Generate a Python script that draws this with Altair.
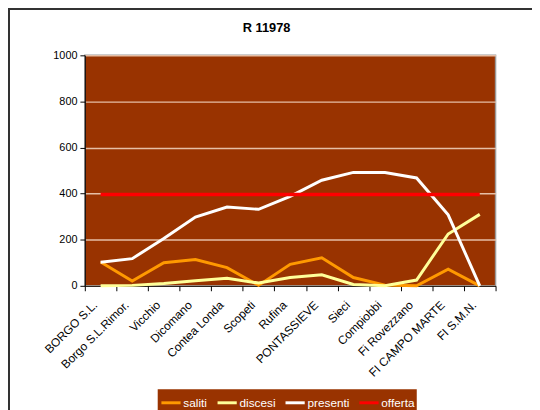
import altair as alt
import pandas as pd

stations = ["BORGO S.L.", "Borgo S.L.Rimor.", "Vicchio", "Dicomano", "Contea Londa",
            "Scopeti", "Rufina", "PONTASSIEVE", "Sieci", "Compiobbi", "Fi Rovezzano",
            "FI CAMPO MARTE", "FI S.M.N."]
saliti = [103, 21, 100, 114, 79, 2, 93, 122, 36, 3, 0, 72, 0]
discesi = [0, 2, 10, 22, 33, 12, 36, 48, 6, 0, 25, 225, 310]
presenti = [102, 118, 205, 298, 342, 332, 388, 458, 492, 492, 468, 308, 0]
offerta = [396] * 13

series_names = ["saliti", "discesi", "presenti", "offerta"]
series_colors = ["#FF9900", "#FFFF99", "#FFFFFF", "#FF0000"]
series_values = [saliti, discesi, presenti, offerta]

rows = []
for name, vals in zip(series_names, series_values):
    for st, v in zip(stations, vals):
        rows.append({"stazione": st, "serie": name, "valore": v})
df = pd.DataFrame(rows)

FONT = "Liberation Sans"
W, H = 417, 234

x_enc = alt.X("stazione:N", sort=stations,
              scale=alt.Scale(paddingInner=0, paddingOuter=0),
              axis=alt.Axis(title=None, labelAngle=-45, labelFontSize=12, labelFont=FONT,
                            labelColor="#000000", tickBand="extent", tickSize=5,
                            domainColor="#000000", tickColor="#000000", labelPadding=12,
                            labelAlign="right", labelBaseline="middle", labelOffset=-6,
                            grid=False, labelLimit=200))
y_enc = alt.Y("valore:Q", scale=alt.Scale(domain=[0, 1000], nice=False),
              axis=alt.Axis(title=None, values=[0, 200, 400, 600, 800, 1000], format="d",
                            labelFontSize=11, labelFont=FONT, labelColor="#000000",
                            tickSize=5, domainColor="#000000", tickColor="#000000",
                            gridColor="#E6BFA6", gridWidth=1.5, labelPadding=3))
color_enc = alt.Color("serie:N", scale=alt.Scale(domain=series_names, range=series_colors),
                      legend=alt.Legend(title=None, orient="none", direction="horizontal",
                                        legendX=74, legendY=339, fillColor="#993300",
                                        padding=2, symbolType="stroke", symbolStrokeWidth=3,
                                        symbolSize=380, labelColor="#FFFFFF", labelFontSize=12,
                                        labelFont=FONT, columnPadding=3, labelOffset=1,
                                        symbolOffset=0))

layers = []
for name in series_names:
    layers.append(
        alt.Chart(df).transform_filter(alt.datum.serie == name)
        .mark_line(strokeWidth=3 if name != "offerta" else 3.5)
        .encode(x=x_enc, y=y_enc, color=color_enc)
    )

border = alt.Chart(df).mark_rect(fill=None, stroke="#333333", strokeWidth=1.5, clip=False).encode(
    x=alt.value(-77), x2=alt.value(470), y=alt.value(-47), y2=alt.value(420))

chart = alt.layer(*layers, border).properties(
    width=W, height=H,
    title=alt.TitleParams("R 11978", font=FONT, fontSize=13, fontWeight="bold",
                          color="#000000", dx=-24, offset=0, dy=27),
    padding={"left": 78, "top": 45, "right": 37, "bottom": 123},
    autosize=alt.AutoSizeParams(type="none"),
    background="#FFFFFF",
).configure_view(fill="#993300", stroke="#999999", strokeWidth=1.5)

chart.save("out.html", embed_options={"renderer": "svg", "actions": False})
